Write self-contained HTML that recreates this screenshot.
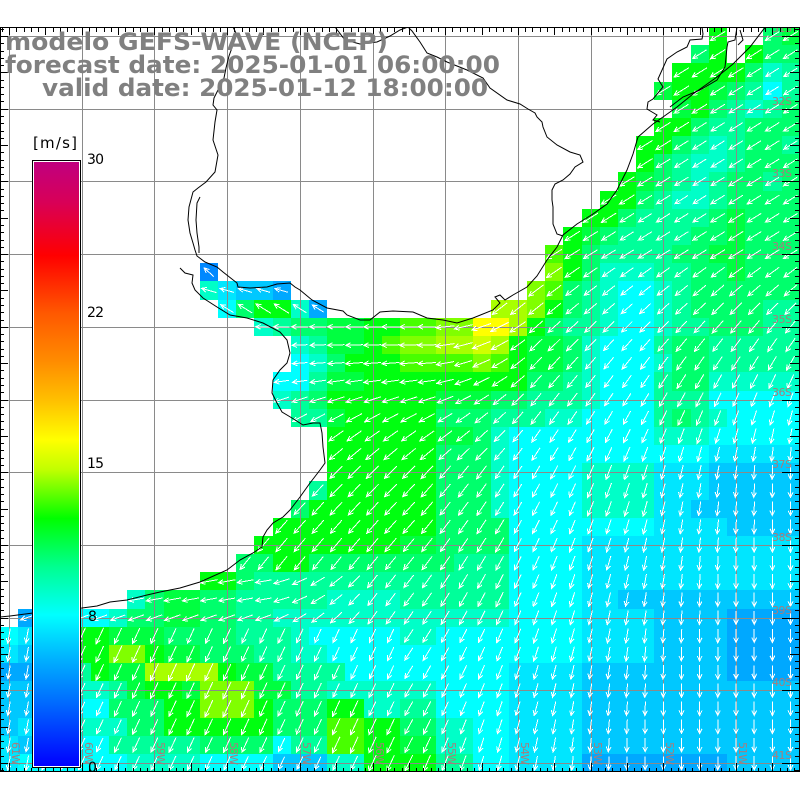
<!DOCTYPE html>
<html><head><meta charset="utf-8">
<style>
html,body{margin:0;padding:0;background:#fff;width:800px;height:800px;overflow:hidden;}
svg{display:block;}
</style></head><body>
<svg id="s" width="800" height="800" viewBox="0 0 800 800" xmlns="http://www.w3.org/2000/svg">
<defs>
<clipPath id="mc"><rect x="0" y="27" width="800" height="745"/></clipPath>
<linearGradient id="cb" x1="0" y1="0" x2="0" y2="1">
<stop offset="0" stop-color="#c0007f"/>
<stop offset="0.066" stop-color="#d80058"/>
<stop offset="0.155" stop-color="#ff0000"/>
<stop offset="0.25" stop-color="#ff5800"/>
<stop offset="0.33" stop-color="#ff8c00"/>
<stop offset="0.395" stop-color="#ffc000"/>
<stop offset="0.46" stop-color="#ffff00"/>
<stop offset="0.51" stop-color="#c0ff00"/>
<stop offset="0.59" stop-color="#00ff00"/>
<stop offset="0.67" stop-color="#00ff90"/>
<stop offset="0.75" stop-color="#00ffff"/>
<stop offset="0.82" stop-color="#00b4ff"/>
<stop offset="0.89" stop-color="#0070ff"/>
<stop offset="1" stop-color="#0000ff"/>
</linearGradient>
</defs>
<rect width="800" height="800" fill="#fff"/>
<g clip-path="url(#mc)">
<g id="cells" shape-rendering="crispEdges"></g>
<g stroke="#8a8a8a" stroke-width="1" shape-rendering="crispEdges">
<path d="M9.5 27V772M82.5 27V772M154.5 27V772M227.5 27V772M300.5 27V772M373.5 27V772M445.5 27V772M518.5 27V772M591.5 27V772M663.5 27V772M736.5 27V772"/>
<path d="M0 36.5H800M0 109.5H800M0 181.5H800M0 254.5H800M0 327.5H800M0 400.5H800M0 472.5H800M0 545.5H800M0 618.5H800M0 690.5H800M0 763.5H800"/>
</g>
<path id="arrows" fill="none" stroke="#fff" stroke-width="1" shape-rendering="crispEdges"/>
<g fill="none" stroke="#000" stroke-width="1">
<path d="M233,27 L236,33 L233,45 L229,56 L226,68 L224,78 L219,88 L214,98 L213,105 L217,110 L215,122 L213,140 L218,155 L215,172 L206,182 L198,188 L193,192 L189,207 L188,220 L190,233 L193,243 L195,250 L197,256 L205,262 L217,267 L223,272 L237,283 L238,287 L250,288 L267,287 L277,284 L290,283 L295,287 L300,290 L312,300 L327,308 L343,311 L347,315 L360,320 L370,320 L380,312 L393,311 L413,312 L427,318 L443,320 L457,323 L473,318 L493,310 L500,303 L495,297 L500,295 L505,300 L513,295 L527,287 L537,276 L547,260 L557,247 L563,235 L577,224 L593,214 L607,204 L617,190 L627,170 L633,154 L638,137 L653,124 L663,117 L677,107 L693,94 L717,77 L733,64 L750,47 L763,30 L766,27"/>
<path d="M200,197 L197,203 L196,220 L197,233 L199,247 L199,253"/>
<path d="M180,268 L185,273 L193,275 L192,283 L195,290 L203,298 L217,307 L230,315 L247,318 L263,323 L280,332 L287,340 L290,353 L287,363 L280,370 L273,380 L272,393 L277,403 L282,412 L292,418 L303,425 L313,423 L320,423 L322,433 L323,447 L325,463 L320,470 L310,483 L300,497 L290,510 L283,517 L273,523 L267,530 L263,537 L262,547 L253,553 L240,560 L227,570 L200,582 L180,588 L160,592 L147,595 L127,600 L110,602 L97,606 L82,608 L33,613 L10,616 L0,617"/>
<path d="M335,27 L345,40 L360,44 L377,42 L390,36 L400,30 L408,27 L412,31 L420,42 L427,53 L437,57 L447,62 L457,66 L467,70 L483,78 L490,88 L507,100 L520,104 L528,109 L535,113 L537,117 L542,122 L543,127 L547,137 L557,145 L570,152 L580,155 L583,162 L575,167 L570,174 L563,180 L555,184 L552,190 L552,200 L553,207 L553,224 L557,234 L563,236"/>
<path d="M702,27 L703,34 L702,39 L690,40 L687,47 L677,52 L667,59 L658,79 L663,87 L653,99 L648,102 L647,109 L652,112 L657,115 L653,120 L660,122"/>
<path d="M737,27 L735,40 L728,42 L727,47 L725,67 L717,80 L700,90 L683,97 L670,107"/>
<path d="M740,30 L743,40 L738,45"/>
</g>
<g font-family="DejaVu Sans, Liberation Sans, sans-serif" font-size="11" fill="#a87c7c">
<text x="772" y="32" textLength="20">31S</text>
<text x="772" y="105" textLength="20">32S</text>
<text x="772" y="177" textLength="20">33S</text>
<text x="772" y="250" textLength="20">34S</text>
<text x="772" y="323" textLength="20">35S</text>
<text x="772" y="396" textLength="20">36S</text>
<text x="772" y="468" textLength="20">37S</text>
<text x="772" y="541" textLength="20">38S</text>
<text x="772" y="614" textLength="20">39S</text>
<text x="772" y="686" textLength="20">40S</text>
<text x="772" y="759" textLength="20">41S</text>
<text transform="translate(12,742) rotate(90)" textLength="23">61W</text>
<text transform="translate(85,742) rotate(90)" textLength="23">60W</text>
<text transform="translate(157,742) rotate(90)" textLength="23">59W</text>
<text transform="translate(230,742) rotate(90)" textLength="23">58W</text>
<text transform="translate(303,742) rotate(90)" textLength="23">57W</text>
<text transform="translate(376,742) rotate(90)" textLength="23">56W</text>
<text transform="translate(448,742) rotate(90)" textLength="23">55W</text>
<text transform="translate(521,742) rotate(90)" textLength="23">54W</text>
<text transform="translate(594,742) rotate(90)" textLength="23">53W</text>
<text transform="translate(666,742) rotate(90)" textLength="23">52W</text>
<text transform="translate(739,742) rotate(90)" textLength="23">51W</text>
</g>
</g>
<path id="ticks" fill="none" stroke="#000" stroke-width="1" shape-rendering="crispEdges"/>
<rect x="0.5" y="27.5" width="799" height="744" fill="none" stroke="#000" stroke-width="1" shape-rendering="crispEdges"/>
<rect x="32.5" y="160.5" width="48" height="607" fill="#fff" stroke="#000" stroke-width="1" shape-rendering="crispEdges"/>
<rect x="34" y="162" width="45" height="604" fill="url(#cb)" shape-rendering="crispEdges"/>
<g font-family="DejaVu Sans, Liberation Sans, sans-serif" font-size="14" fill="#000">
<text x="33" y="148" textLength="44" font-size="15">[m/s]</text>
<text x="87" y="164" textLength="17">30</text>
<text x="87" y="317" textLength="17">22</text>
<text x="87" y="468" textLength="17">15</text>
<text x="88" y="621">8</text>
<text x="88" y="772">0</text>
</g>
<g font-family="DejaVu Sans, Liberation Sans, sans-serif" font-weight="bold" font-size="24" fill="#808080">
<text x="5" y="50" textLength="383" lengthAdjust="spacingAndGlyphs">modelo GEFS-WAVE (NCEP)</text>
<text x="5" y="73" textLength="495" lengthAdjust="spacingAndGlyphs">forecast date: 2025-01-01 06:00:00</text>
<text x="42" y="96" textLength="446" lengthAdjust="spacingAndGlyphs">valid date: 2025-01-12 18:00:00</text>
</g>
</svg>
<script>
(function(){
var P={a:'#0088ff',b:'#00a8ff',c:'#00c8ff',d:'#00e6ff',e:'#00ffff',f:'#00ffc8',g:'#00ff9a',h:'#00ff6c',i:'#00ff40',j:'#00ff10',k:'#48ff00',l:'#80ff00',m:'#a8ff00',n:'#d0ff00',o:'#ffff00'};
var ORDER='abcdefghijklmno';
var R=[
[[39,"j..hi"]],
[[38,"hj.jhh"]],
[[37,"jjjjhfg"]],
[[36,"ijjihgeg"]],
[[37,"ijhgfgh"]],
[[36,"jjhgghhh"]],
[[35,"jjhgfghhg"]],
[[35,"jhgffghhh"]],
[[34,"jihgfghhgh"]],
[[33,"jjhgffghhhh"]],
[[32,"jjhgggghihhh"]],
[[31,"jihgggghhihhh"]],
[[30,"kjhgggghhiihhh"]],
[[11,"a"],[30,"ljhfffgghhihhh"]],
[[11,"fdccb"],[29,"lkhgfeefghhhhhh"]],
[[12,"ehjjfb"],[27,"mmljhgfeefghhhhgg"]],
[[14,"fghhiijjkklloomjhggfeefgghhhgg"]],
[[16,"fgiijkllmmnmjiihfeeeghhggggg"]],
[[16,"efhjjjkkkklkjiihfeeefhhggggg"]],
[[15,"eegiijjjjjjjjjhhgfeeeghhfffff"]],
[[15,"fghjjjjjjiiihhgggfeeegggeeeee"]],
[[16,"ggijjjjjhhhgggffeeeeghgfeeee"]],
[[18,"jjjjjjiihfeeeeeeeefffeeeee"]],
[[18,"jjjjjjhhhfeeeeeeeeeeeddddd"]],
[[18,"jjjjjjhhhfeeeeffffdddccccc"]],
[[17,"gjjjjjjhhhfeeeeffffdddccccc"]],
[[16,"hjjjjjjjhhhfeeeeffffddcccccc"]],
[[15,"jjjjjjjjjhhhheeeeeeeeddddcccc"]],
[[14,"jjjjjjjjiihhhheeeedddddddddddd"]],
[[13,"hhjjhhhhhhhhgggeeeedddddddddddd"]],
[[11,"jjhggggggggggggggeeeedddddddddddd"]],
[[7,"fhiihhgggggffffggggggeeeeddcccccccccc"]],
[[1,"bcdeefhhiihhggfffffffffffffeeeeddddccccbbbb"]],
[[0,"edffjjiiihhhhgggfeeeeeffeeeeeeeeddddccccbbbb"]],
[[0,"dcffjjlljiihhhggffeeeeeeeeeeeeeeddddccccbbbb"]],
[[0,"bbeegjiimmmmjiiggggeeeeeeeeeddddccccccccbbbb"]],
[[0,"cceeffgijjillliiggffffffeeeeddddcccccccccccc"]],
[[0,"cceeeehhhjjllljhhhjjffggeeeeddddcccccccccccc"]],
[[0,"cdeefffhhjjjjjjhhhkkjjhhffeeddddcccccccccccc"]],
[[0,"dceeeeggggghhhheggkkjjiiffeeddddcccccccccccc"]],
[[0,"deeeeeeffffeeeecccffjjjjggeeddddbbbbbbbbcccc"]]
];
function clamp(x,a,b){return Math.max(a,Math.min(b,x));}
function east(c,r){
  var a24=c>=22?135-(c-22)*2.1:135;
  if(r>=24) return Math.max(90,a24-(r-24)*1.2);
  var t=clamp((r-12)/12,0,1);
  return 148*(1-t)+a24*t;
}
var WR={16:180,17:178,18:176,19:172,20:162,21:152,22:145,23:140};
function ang(c,r){
  if(r<=12) return 148;
  if(r<=15){
    if(c<27){ if(r===13) return 222; if(r===14) return 196; return 212; }
    return east(c,r);
  }
  var e=east(c,r);
  if(r<=23){
    var t=clamp((c-23)/6,0,1);
    return WR[r]*(1-t)+e*t;
  }
  if(r>=30&&r<=32&&c<=20){
    var W=(r===32)?160:170;
    var t2=clamp((c-14)/6,0,1);
    return W*(1-t2)+e*t2;
  }
  if(r>=33&&c<22){ return c<=1?100:115; }
  return e;
}
function f(v){return v.toFixed(1);}
var W=18.175, cells='', ad='';
for(var j=0;j<R.length;j++){
  var row=[];for(var q=0;q<44;q++)row.push('.');
  for(var s=0;s<R[j].length;s++){var st=R[j][s][0],str=R[j][s][1];for(var t=0;t<str.length;t++){if(st+t<44)row[st+t]=str.charAt(t);}}
  var y0=Math.round(27+W*j), y1=Math.round(27+W*(j+1));
  var k=0;
  while(k<44){
    var ch=row[k];
    if(ch==='.'){k++;continue;}
    var e2=k; while(e2+1<44&&row[e2+1]===ch)e2++;
    var x0=Math.round(W*k), x1=Math.round(W*(e2+1));
    cells+='<rect x="'+x0+'" y="'+y0+'" width="'+(x1-x0)+'" height="'+(y1-y0)+'" fill="'+P[ch]+'"/>';
    k=e2+1;
  }
  for(k=0;k<44;k++){
    var c2=row[k]; if(c2==='.')continue;
    var idx=ORDER.indexOf(c2);
    var L=13+idx*0.5;
    var th=ang(k,j)*Math.PI/180;
    var dx=Math.cos(th), dy=Math.sin(th);
    var cx=9+W*k, cy=36+W*j;
    var tx=cx-dx*L/2, ty=cy-dy*L/2, hx=cx+dx*L/2, hy=cy+dy*L/2;
    var hl=5.5, ha=0.45;
    var b1x=hx-hl*Math.cos(th-ha), b1y=hy-hl*Math.sin(th-ha);
    var b2x=hx-hl*Math.cos(th+ha), b2y=hy-hl*Math.sin(th+ha);
    ad+='M'+f(tx)+' '+f(ty)+'L'+f(hx)+' '+f(hy)+'M'+f(b1x)+' '+f(b1y)+'L'+f(hx)+' '+f(hy)+'L'+f(b2x)+' '+f(b2y);
  }
}
document.getElementById('cells').innerHTML=cells;
document.getElementById('arrows').setAttribute('d',ad);
var tk='';
for(var m=-2;m<=120;m++){
  var x=9+7.27*m; if(x<0||x>800)continue;
  var maj=(m%5===0);
  var xx=Math.round(x)+0.5;
  tk+='M'+xx+' 27V'+(27+(maj?8:5))+'M'+xx+' 772V'+(772-(maj?9:4));
}
for(m=-2;m<=110;m++){
  var y=36+7.27*m; if(y<27||y>772)continue;
  var m5=(m%5===0), m10=(m%10===0);
  var yy=Math.round(y)+0.5;
  tk+='M0 '+yy+'H'+(m5?8:4)+'M800 '+yy+'H'+(800-(m10?18:(m5?10:5)));
}
document.getElementById('ticks').setAttribute('d',tk);
})();
</script>
</body></html>
